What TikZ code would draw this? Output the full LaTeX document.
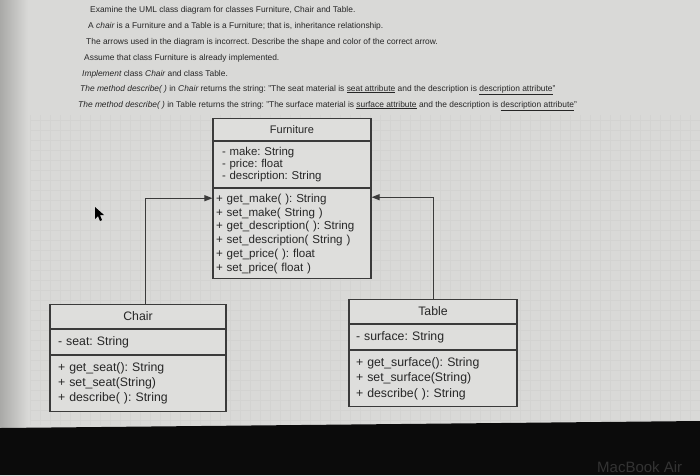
\documentclass[tikz,border=0pt]{standalone}
\usepackage{fontspec}
\setmainfont{Liberation Sans}
\usetikzlibrary{arrows.meta,calc}
\definecolor{bg}{HTML}{D9D9D7}
\definecolor{bgdark}{HTML}{A9A9A7}
\definecolor{gridc}{HTML}{D3D3D1}
\definecolor{boxfill}{HTML}{DEDEDC}
\definecolor{linec}{HTML}{3A3A3A}
\definecolor{txt}{HTML}{262626}
\definecolor{bezel}{HTML}{0B0B0B}
\definecolor{brand}{HTML}{333333}
\tikzset{
  comp/.style={draw=linec, fill=boxfill, line width=1.1pt, anchor=north, inner ysep=0pt, text=txt},
  ttl/.style={comp, align=center},
  lst/.style={comp, align=left},
  inh/.style={draw=linec, line width=1pt, -{Triangle[length=8pt,width=6pt]}},
  qline/.style={anchor=west, inner sep=0pt, text=txt, font=\fontsize{8.4}{9}\selectfont}
}
\frenchspacing
\begin{document}
\begin{tikzpicture}[x=1pt,y=-1pt]
\useasboundingbox (0,0) rectangle (700,475);
\clip (0,0) rectangle (700,475);
% screen background
\fill[bg] (0,0) rectangle (700,475);
\shade[left color=bgdark, right color=bg] (0,0) rectangle (28,430);
\draw[gridc, line width=0.4pt, step=10pt] (30,115) grid (700,425);
% instruction text
\node[qline] (l1) at (90,10) {Examine the UML class diagram for classes Furniture, Chair and Table.};
\node[qline] (l2) at (88,26) {A \itshape chair \upshape is a Furniture and a Table is a Furniture; that is, inheritance relationship.};
\node[qline] (l3) at (86,42) {The arrows used in the diagram is incorrect. Describe the shape and color of the correct arrow.};
\node[qline] (l4) at (84,58) {Assume that class Furniture is already implemented.};
\node[qline] (l5) at (82,74) {\itshape Implement \upshape class \itshape Chair \upshape and class Table.};
\node[qline] (l6) at (80,90) {\itshape The method describe( ) \upshape in \itshape Chair \upshape returns the string: "The seat material is \underline{seat attribute} and the description is \underline{description attribute}"};
\node[qline] (l7) at (78,106) {\itshape The method describe( ) \upshape in Table returns the string: "The surface material is \underline{surface attribute} and the description is \underline{description attribute}"};
% Furniture
\node[ttl, minimum width=158pt, minimum height=22pt, font=\fontsize{11}{12}\selectfont] (ft) at (292,118) {Furniture};
\node[lst, text width=140pt, inner xsep=9pt, minimum height=46pt, font=\fontsize{11.4}{12}\selectfont] (fa) at (ft.south) {- make: String\\- price: float\\- description: String};
\node[lst, text width=152pt, inner xsep=3pt, minimum height=90pt, font=\fontsize{11.6}{13.8}\selectfont] (fm) at (fa.south) {+ get\_make( ): String\\+ set\_make( String )\\+ get\_description( ): String\\+ set\_description( String )\\+ get\_price( ): float\\+ set\_price( float )};
% Chair
\node[ttl, minimum width=176pt, minimum height=24pt, font=\fontsize{12.3}{13}\selectfont] (ct) at (138,304) {Chair};
\node[lst, text width=160pt, inner xsep=8pt, minimum height=25pt, font=\fontsize{12.3}{13}\selectfont] (ca) at (ct.south) {- seat: String};
\node[lst, text width=160pt, inner xsep=8pt, minimum height=56pt, font=\fontsize{12.3}{15}\selectfont] (cm) at (ca.south) {+ get\_seat(): String\\+ set\_seat(String)\\+ describe( ): String};
% Table
\node[ttl, minimum width=168pt, minimum height=24pt, font=\fontsize{12.3}{13}\selectfont] (tt) at (433,299) {Table};
\node[lst, text width=154pt, inner xsep=7pt, minimum height=25pt, font=\fontsize{12.3}{13}\selectfont] (ta) at (tt.south) {- surface: String};
\node[lst, text width=154pt, inner xsep=7pt, minimum height=56pt, font=\fontsize{12.3}{15.5}\selectfont] (tm) at (ta.south) {+ get\_surface(): String\\+ set\_surface(String)\\+ describe( ): String};
% inheritance connectors
\coordinate (cj) at ($(ct.north)+(7,0)$);
\draw[inh] (cj) |- ($(fm.north west)+(0,10)$);
\draw[inh] (tt.north) |- ($(fm.north east)+(0,9)$);
% mouse cursor
\fill[black] (95,207) -- (95,219) -- (98,216) -- (100,221) -- (102,220) -- (100,215) -- (104,215) -- cycle;
% laptop bezel
\fill[bezel] (0,428) -- (700,421) -- (700,475) -- (0,475) -- cycle;
\node[text=brand, font=\fontsize{15}{15}\selectfont, anchor=base west, inner sep=0pt] (brandname) at (597,472) {MacBook Air};
\end{tikzpicture}
\end{document}
